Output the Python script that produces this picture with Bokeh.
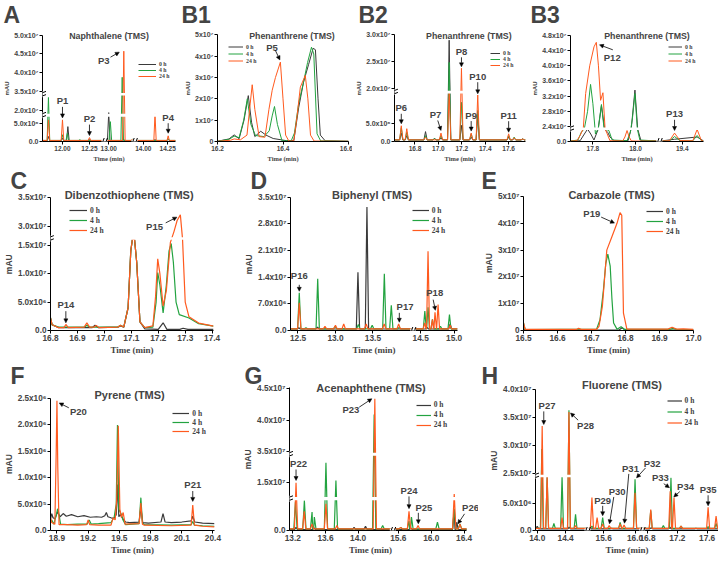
import numpy as np
from bokeh.plotting import figure
from bokeh.models import (Range1d, FixedTicker, CustomJSTickFormatter, Label, Arrow, Title,
                          NormalHead, Legend, LegendItem, BoxAnnotation)
from bokeh.layouts import column, row
from bokeh.embed import file_html
from bokeh.resources import INLINE

SERIES_NAMES = ["0 h", "4 h", "24 h"]

# ---------------- A: Naphthalene (peak tables: retention time, intensity)
A_t_0h = [11.87, 12.00, 12.05, 12.25, 13.00, 13.14, 14.12, 14.255]
A_v_0h = [1.4e6, 0.9e6, 4.2e6, 0.5e6, 1.95e7, 0.5e6, 0.6e6, 0.6e6]
A_t_4h = [11.87, 12.00, 12.045, 12.16, 13.015, 13.125, 13.22, 14.255]
A_v_4h = [2.35e7, 1.9e6, 2.3e6, 0.5e6, 5.6e6, 3.87e7, 0.6e6, 0.8e6]
A_t_24h = [11.87, 12.00, 12.25, 13.14, 13.22, 14.12, 14.255]
A_v_24h = [6.1e6, 6.1e6, 1.1e6, 4.57e7, 0.7e6, 1.85e7, 1.6e6]
A_base = [0.25e6, 0.3e6, 0.3e6]
A_xticks = [12.0, 12.25, 13.0, 14.0, 14.25]
A_xlabels = ["12.00", "12.25", "13.00", "14.00", "14.25"]
A_yticks = [0, 5e6, 2e7, 3.5e7, 4e7, 4.5e7, 5e7]
A_ylabels = ["0.0", "5.0x10\u2076", "2.0x10\u2077", "3.5x10\u2077", "4.0x10\u2077", "4.5x10\u2077", "5.0x10\u2077"]

# ---------------- B1: Phenanthrene (trace points)
B1_t_0h = [16.200, 16.235, 16.251, 16.266, 16.281, 16.294, 16.304, 16.314, 16.332, 16.348, 16.370, 16.410,
           16.433, 16.448, 16.463, 16.478, 16.492, 16.499, 16.507, 16.514, 16.529, 16.600]
B1_v_0h = [0.1e6, 1.2e6, 3.1e6, 1.3e6, 1.0e7, 2.15e7, 9e6, 2.3e6, 4.8e6, 3.0e6, 1.4e6, 0.4e6,
           0.4e6, 1.6e7, 2.8e7, 3.6e7, 4.37e7, 4.3e7, 2.0e7, 3e6, 0.3e6, 0.1e6]
B1_t_4h = [16.200, 16.235, 16.251, 16.266, 16.280, 16.291, 16.302, 16.316, 16.342, 16.358, 16.367, 16.374,
           16.383, 16.397, 16.425, 16.435, 16.448, 16.463, 16.475, 16.487, 16.494, 16.504, 16.515, 16.600]
B1_v_4h = [0.1e6, 1.0e6, 2.5e6, 1.8e6, 1.0e7, 2.0e7, 8e6, 2.8e6, 2.3e6, 5e6, 1.2e7, 1.64e7,
           8e6, 0.3e6, 0.3e6, 4e6, 1.8e7, 2.8e7, 3.7e7, 4.42e7, 4.1e7, 3.6e6, 0.3e6, 0.1e6]
B1_t_24h = [16.200, 16.240, 16.251, 16.270, 16.290, 16.300, 16.306, 16.314, 16.327, 16.345, 16.357, 16.367,
            16.377, 16.392, 16.400, 16.408, 16.418, 16.433, 16.443, 16.453, 16.468, 16.476, 16.484, 16.495, 16.600]
B1_v_24h = [0.1e6, 0.6e6, 1.2e6, 0.8e6, 3e6, 1.8e7, 2.66e7, 1.5e7, 2.3e6, 2.0e6, 1.5e7, 2.4e7,
            3.0e7, 3.72e7, 2.0e7, 3e6, 0.2e6, 0.3e6, 1.2e7, 2.55e7, 3.1e7, 2.0e7, 3e6, 0.2e6, 0.1e6]
B1_xticks = [16.2, 16.4, 16.6]
B1_xlabels = ["16.2", "16.4", "16.6"]
B1_yticks = [0, 1e7, 2e7, 3e7, 4e7, 5e7]
B1_ylabels = ["0", "1x10\u2077", "2x10\u2077", "3x10\u2077", "4x10\u2077", "5x10\u2077"]

# ---------------- B2: Phenanthrene (peak tables)
B2_t_0h = [16.683, 16.73, 16.89, 16.967, 17.022, 17.092, 17.197, 17.28, 17.336, 17.60, 17.647, 17.72]
B2_v_0h = [2.3e6, 1.6e6, 2.7e6, 0.9e6, 1.0e6, 2.9e7, 4.4e6, 1.2e6, 7.5e6, 1.2e6, 0.9e6, 0.7e6]
B2_t_4h = [16.683, 16.73, 16.89, 16.967, 17.022, 17.092, 17.197, 17.28, 17.336, 17.60, 17.647, 17.72]
B2_v_4h = [3.8e6, 2.5e6, 1.6e6, 0.8e6, 1.6e6, 2.49e7, 1.07e7, 2.1e6, 8.5e6, 1.6e6, 1.2e6, 0.7e6]
B2_t_24h = [16.683, 16.73, 16.89, 17.022, 17.092, 17.197, 17.28, 17.336, 17.60, 17.647, 17.72]
B2_v_24h = [4.3e6, 3.5e6, 1.2e6, 2.3e6, 1.9e7, 2.38e7, 2.3e6, 1.27e7, 2.1e6, 1.0e6, 0.7e6]
B2_base = [0.4e6, 0.45e6, 0.45e6]
B2_xticks = [16.8, 17.0, 17.2, 17.4, 17.6]
B2_xlabels = ["16.8", "17.0", "17.2", "17.4", "17.6"]
B2_yticks = [0, 5e6, 2e7, 2.5e7, 3e7]
B2_ylabels = ["0.0", "5.0x10\u2076", "2.0x10\u2077", "2.5x10\u2077", "3.0x10\u2077"]

# ---------------- B3: Phenanthrene (trace points)
B3_t_0h = [17.695, 17.740, 17.760, 17.775, 17.790, 17.805, 17.825, 17.840, 17.855, 17.870, 17.880, 17.900,
           17.965, 17.980, 17.997, 18.010, 18.025, 18.106, 19.298, 19.364, 19.470, 19.500]
B3_v_0h = [0.3e6, 0.5e6, 5e6, 1.2e7, 5e6, 1.0e6, 1.2e7, 2.95e7, 1.2e7, 6e6, 3e6, 0.5e6,
           0.6e6, 2.2e7, 3.36e7, 1.2e7, 0.6e6, 0.3e6, 0.3e6, 1.5e6, 3.0e6, 0.4e6]
B3_t_4h = [17.695, 17.730, 17.745, 17.760, 17.775, 17.789, 17.800, 17.812, 17.825, 17.840, 17.852, 17.862,
           17.875, 17.890, 17.960, 17.975, 17.985, 17.997, 18.008, 18.020, 18.106, 19.298, 19.340, 19.364,
           19.390, 19.450, 19.470, 19.490, 19.500]
B3_v_4h = [0.3e6, 1.0e6, 6e6, 1.8e7, 2.8e7, 3.51e7, 3.0e7, 5e6, 2.0e7, 2.98e7, 2.2e7, 1.0e7,
           7.3e6, 1.0e6, 0.5e6, 6e6, 2.6e7, 3.27e7, 1.5e7, 1.0e6, 0.3e6, 0.3e6, 0.4e6, 3.3e6,
           0.5e6, 0.5e6, 4.0e6, 0.6e6, 0.4e6]
B3_t_24h = [17.695, 17.725, 17.740, 17.755, 17.766, 17.785, 17.805, 17.816, 17.826, 17.836, 17.847, 17.857,
            17.867, 17.880, 17.940, 17.950, 17.960, 17.970, 17.980, 18.000, 18.106, 19.298, 19.340, 19.364,
            19.390, 19.450, 19.470, 19.490, 19.500]
B3_v_24h = [0.3e6, 0.5e6, 4e6, 2.0e7, 3.27e7, 4.0e7, 4.5e7, 4.62e7, 4.0e7, 3.09e7, 3.29e7, 1.6e7,
            5.1e6, 0.5e6, 0.4e6, 3e6, 7.3e6, 3e6, 0.4e6, 0.3e6, 0.3e6, 0.3e6, 0.5e6, 5.6e6,
            0.6e6, 0.5e6, 8.9e6, 0.6e6, 0.4e6]
B3_xticks = [17.8, 18.0, 19.4]
B3_xlabels = ["17.8", "18.0", "19.4"]
B3_yticks = [0, 2.4e7, 2.8e7, 3.2e7, 3.6e7, 4.0e7, 4.4e7, 4.8e7]
B3_ylabels = ["0.0", "2.4x10\u2077", "2.8x10\u2077", "3.2x10\u2077", "3.6x10\u2077", "4.0x10\u2077", "4.4x10\u2077", "4.8x10\u2077"]

# ---------------- C: Dibenzothiophene (trace points)
C_t_0h = [16.800, 16.806, 16.830, 16.955, 16.965, 16.978, 17.050, 17.060, 17.072, 17.088, 17.098, 17.104,
          17.112, 17.120, 17.132, 17.150, 17.200, 17.218, 17.232, 17.280, 17.292, 17.310, 17.405]
C_v_0h = [2.2e6, 1.0e6, 0.5e6, 0.5e6, 0.94e6, 0.5e6, 0.6e6, 0.8e6, 0.6e6, 4e6, 1.4e7, 1.63e7,
          1.63e7, 1.2e7, 1.5e6, 0.3e6, 0.2e6, 1.35e6, 0.2e6, 0.2e6, 0.4e6, 0.2e6, 0.2e6]
C_t_4h = [16.800, 16.806, 16.830, 16.925, 16.935, 16.945, 17.050, 17.060, 17.072, 17.088, 17.098, 17.104,
          17.112, 17.120, 17.132, 17.150, 17.180, 17.192, 17.198, 17.206, 17.218, 17.230, 17.240, 17.248,
          17.256, 17.266, 17.278, 17.314, 17.350, 17.405]
C_v_4h = [2.2e6, 1.0e6, 0.6e6, 0.6e6, 0.9e6, 0.6e6, 0.6e6, 0.9e6, 0.6e6, 4e6, 1.4e7, 1.63e7,
          1.63e7, 1.2e7, 1.5e6, 0.5e6, 0.6e6, 5e6, 1.02e7, 8e6, 3.1e6, 8e6, 1.4e7, 1.53e7,
          1.2e7, 5e6, 2.8e6, 2.2e6, 1.2e6, 0.76e6]
C_t_24h = [16.800, 16.806, 16.830, 16.850, 16.857, 16.866, 16.925, 16.935, 16.945, 16.962, 16.970, 16.980,
           17.050, 17.060, 17.072, 17.088, 17.098, 17.104, 17.112, 17.120, 17.132, 17.150, 17.180, 17.190,
           17.198, 17.206, 17.218, 17.230, 17.245, 17.258, 17.270, 17.282, 17.290, 17.300, 17.314, 17.350, 17.405]
C_v_24h = [2.2e6, 1.0e6, 0.5e6, 0.5e6, 1.06e6, 0.5e6, 0.6e6, 1.35e6, 0.6e6, 0.6e6, 0.9e6, 0.5e6,
           0.6e6, 0.9e6, 0.6e6, 4e6, 1.4e7, 1.63e7, 1.63e7, 1.2e7, 1.5e6, 0.5e6, 0.8e6, 6e6,
           1.26e7, 1.0e7, 4.3e6, 7e6, 1.55e7, 2.9e7, 3.1e7, 3.2e7, 2.0e7, 5e6, 2.4e6, 1.3e6, 0.76e6]
C_xticks = [16.8, 16.9, 17.0, 17.1, 17.2, 17.3, 17.4]
C_xlabels = ["16.8", "16.9", "17.0", "17.1", "17.2", "17.3", "17.4"]
C_yticks = [0, 5e6, 1e7, 1.5e7, 3e7, 3.5e7]
C_ylabels = ["0.0", "5.0x10\u2076", "1.0x10\u2077", "1.5x10\u2077", "3.0x10\u2077", "3.5x10\u2077"]

# ---------------- D: Biphenyl (peak tables)
D_t_0h = [12.51, 12.76, 13.30, 13.42, 14.595, 14.94]
D_v_0h = [0.7e6, 0.9e6, 1.53e7, 3.24e7, 0.8e6, 1.75e6]
D_t_4h = [12.517, 12.606, 12.763, 12.996, 13.305, 13.49, 13.652, 13.745, 13.85, 14.562, 14.61, 14.676, 14.795, 14.93]
D_v_4h = [9.9e6, 0.7e6, 1.36e7, 1.1e6, 1.6e6, 1.4e6, 1.49e7, 6.6e6, 0.8e6, 5.1e6, 6.1e6, 2.9e6, 1.1e6, 4.2e6]
D_t_24h = [12.517, 12.86, 13.0, 13.11, 13.41, 13.65, 13.843, 14.56, 14.61, 14.676, 14.714, 14.76, 14.94]
D_v_24h = [7.3e6, 1.1e6, 1.4e6, 1.75e6, 1.75e6, 1.75e6, 1.75e6, 2e6, 2.08e7, 2.9e6, 4.8e6, 6.8e6, 1.4e6]
D_base = [0.4e6, 0.45e6, 0.45e6]
D_xticks = [12.5, 13.0, 13.5, 14.5, 15.0]
D_xlabels = ["12.5", "13.0", "13.5", "14.5", "15.0"]
D_yticks = [0, 7e6, 1.4e7, 2.1e7, 2.8e7, 3.5e7]
D_ylabels = ["0.0", "7.0x10\u2076", "1.4x10\u2077", "2.1x10\u2077", "2.8x10\u2077", "3.5x10\u2077"]

# ---------------- E: Carbazole (trace points)
E_t_0h = [16.500, 16.505, 16.780, 16.790, 16.800, 17.000]
E_v_0h = [0.5e6, 0.12e6, 0.12e6, 1.0e6, 0.12e6, 0.12e6]
E_t_4h = [16.500, 16.505, 16.715, 16.725, 16.735, 16.742, 16.748, 16.755, 16.760, 16.765, 16.775, 16.787,
          16.797, 16.930, 16.940, 16.950, 17.000]
E_v_4h = [2.8e6, 0.3e6, 0.5e6, 4e6, 1.5e7, 2.5e7, 2.85e7, 2.4e7, 1.2e7, 2.8e6, 0.5e6, 1.4e6,
          0.4e6, 0.4e6, 0.8e6, 0.4e6, 0.3e6]
E_t_24h = [16.500, 16.505, 16.655, 16.662, 16.670, 16.715, 16.722, 16.732, 16.745, 16.760, 16.775, 16.784,
           16.789, 16.794, 16.804, 16.925, 16.937, 16.950, 16.970, 17.000]
E_v_24h = [2.8e6, 0.4e6, 0.4e6, 0.8e6, 0.4e6, 0.4e6, 1.5e6, 9e6, 3.0e7, 3.5e7, 4.0e7, 4.4e7,
           4.3e7, 6.5e6, 0.5e6, 0.5e6, 1.2e6, 0.5e6, 0.6e6, 0.4e6]
E_xticks = [16.5, 16.6, 16.7, 16.8, 16.9, 17.0]
E_xlabels = ["16.5", "16.6", "16.7", "16.8", "16.9", "17.0"]
E_yticks = [0, 1e7, 2e7, 3e7, 4e7, 5e7]
E_ylabels = ["0", "1x10\u2077", "2x10\u2077", "3x10\u2077", "4x10\u2077", "5x10\u2077"]

# ---------------- F: Pyrene (trace points)
F_t_0h = [18.838, 18.850, 18.862, 18.880, 18.905, 18.930, 18.960, 18.990, 19.040, 19.100, 19.160, 19.220,
          19.280, 19.330, 19.360, 19.375, 19.390, 19.420, 19.450, 19.470, 19.482, 19.495, 19.510, 19.540,
          19.560, 19.600, 19.690, 19.707, 19.725, 19.780, 19.900, 19.920, 19.940, 20.000, 20.100, 20.190,
          20.206, 20.225, 20.300, 20.415]
F_v_0h = [2.2e5, 3.2e5, 2.4e5, 2.2e5, 3.5e5, 2.6e5, 3.2e5, 2.7e5, 3.0e5, 2.6e5, 2.8e5, 2.5e5,
          2.6e5, 2.5e5, 2.8e5, 3.4e5, 2.6e5, 2.4e5, 2.3e5, 3.0e5, 8.7e5, 2.6e5, 3.0e5, 2.0e5,
          1.6e5, 1.5e5, 1.6e5, 4.3e5, 1.5e5, 1.4e5, 1.6e5, 3.2e5, 1.6e5, 1.5e5, 1.6e5, 1.8e5,
          2.7e5, 1.6e5, 1.4e5, 1.3e5]
F_t_4h = [18.838, 18.850, 18.870, 18.895, 18.906, 18.915, 18.935, 19.000, 19.100, 19.190, 19.210, 19.230,
          19.300, 19.420, 19.450, 19.470, 19.482, 19.495, 19.520, 19.535, 19.560, 19.690, 19.707, 19.722,
          19.740, 20.000, 20.190, 20.206, 20.222, 20.300, 20.415]
F_v_4h = [1.5e5, 2.0e5, 1.2e5, 3.0e5, 4.1e5, 3.5e5, 1.2e5, 1.1e5, 1.2e5, 1.2e5, 2.0e5, 1.2e5,
          1.3e5, 1.5e5, 2.5e5, 5e5, 1.99e6, 4e5, 3.0e5, 2.0e5, 1.1e5, 1.3e5, 6.2e5, 1.5e5,
          1.1e5, 1.0e5, 1.1e5, 1.7e5, 1.0e5, 0.9e5, 0.8e5]
F_t_24h = [18.838, 18.850, 18.880, 18.893, 18.900, 18.908, 18.920, 19.000, 19.100, 19.185, 19.200, 19.215,
           19.300, 19.420, 19.440, 19.460, 19.475, 19.490, 19.505, 19.520, 19.537, 19.555, 19.690, 19.707,
           19.722, 19.740, 20.000, 20.190, 20.206, 20.222, 20.300, 20.415]
F_v_24h = [2.5e5, 1.5e5, 1.2e5, 1.5e6, 2.45e6, 1.2e6, 1.1e5, 1.1e5, 1.0e5, 1.1e5, 2.0e5, 1.1e5,
           1.0e5, 1.0e5, 2.4e5, 2.0e5, 6e5, 1.98e6, 4e5, 2.5e5, 3.4e5, 1.2e5, 1.3e5, 5.2e5,
           1.2e5, 1.0e5, 0.9e5, 1.0e5, 4.8e5, 1.0e5, 0.8e5, 0.7e5]
F_xticks = [18.9, 19.2, 19.5, 19.8, 20.1, 20.4]
F_xlabels = ["18.9", "19.2", "19.5", "19.8", "20.1", "20.4"]
F_yticks = [0, 5e5, 1e6, 1.5e6, 2e6, 2.5e6]
F_ylabels = ["0.0", "5.0x10\u2075", "1.0x10\u2076", "1.5x10\u2076", "2.0x10\u2076", "2.5x10\u2076"]

# ---------------- G: Acenaphthene (peak tables)
G_t_0h = [13.24, 13.46, 13.95, 14.09, 15.75, 16.28, 16.31]
G_v_0h = [1.0e6, 0.8e6, 1.0e6, 1.3e6, 0.8e6, 6.3e6, 2.6e6]
G_t_4h = [13.233, 13.342, 13.436, 13.464, 13.606, 13.728, 14.196, 14.30, 15.63, 15.73, 15.76, 16.076, 16.28, 16.35]
G_v_4h = [9.0e6, 9.4e6, 5.8e6, 4.2e6, 2.13e7, 1.57e7, 4.09e7, 1.6e6, 1.0e6, 3.0e6, 4.2e6, 2.6e6, 6.8e6, 2.1e6]
G_t_24h = [13.24, 13.34, 13.436, 13.606, 13.74, 14.204, 15.63, 15.73, 15.84, 16.28, 16.35]
G_v_24h = [1.5e7, 6.0e6, 2.1e6, 8.4e6, 1.6e6, 4.34e7, 1.0e6, 6.0e6, 1.6e6, 1.15e7, 2.0e6]
G_base = [0.3e6, 0.5e6, 0.5e6]
G_xticks = [13.2, 13.6, 14.0, 15.6, 16.0, 16.4]
G_xlabels = ["13.2", "13.6", "14.0", "15.6", "16.0", "16.4"]
G_yticks = [0, 1.5e7, 3.5e7, 4.0e7, 4.5e7]
G_ylabels = ["0.0", "1.5x10\u2077", "3.5x10\u2077", "4.0x10\u2077", "4.5x10\u2077"]

# ---------------- H: Fluorene (peak tables)
H_t_0h = [14.0, 14.45, 15.7, 16.85, 17.1, 17.45]
H_v_0h = [0.8e6, 0.6e6, 0.4e6, 0.5e6, 0.6e6, 0.4e6]
H_t_4h = [14.065, 14.14, 14.235, 14.35, 14.447, 14.54, 15.45, 15.587, 15.81, 16.0, 16.844, 17.013,
          17.115, 17.25, 17.613, 17.72]
H_v_4h = [2.94e7, 1.0e7, 1.3e6, 1.0e7, 3.63e7, 3.0e6, 0.8e6, 2.4e6, 1.5e6, 9.5e6, 3.7e6, 0.9e6,
          9.8e6, 0.8e6, 0.7e6, 1.3e6]
H_t_24h = [14.07, 14.14, 14.35, 14.447, 14.54, 15.45, 15.516, 15.587, 15.67, 15.81, 15.86, 16.0,
           16.844, 17.105, 17.156, 17.25, 17.613, 17.72]
H_v_24h = [3.35e7, 1.0e7, 2.4e6, 3.6e7, 0.9e6, 6.1e6, 2.4e6, 1.2e6, 0.9e6, 1.2e6, 1.0e6, 7.0e6,
           3.9e6, 7.3e6, 6.1e6, 0.8e6, 4.3e6, 2.7e6]
H_base = [0.3e6, 0.4e6, 0.4e6]
H_xticks = [14.0, 14.4, 15.6, 16.0, 16.8, 17.2, 17.6]
H_xlabels = ["14.0", "14.4", "15.6", "16.0", "16.8", "17.2", "17.6"]
H_yticks = [0, 5e6, 2.5e7, 3.0e7, 3.5e7, 4.0e7]
H_ylabels = ["0.0", "5.0x10\u2076", "2.5x10\u2077", "3.0x10\u2077", "3.5x10\u2077", "4.0x10\u2077"]

# ================= styling / layout =================
COLORS = ["#3a3a3a", "#23a340", "#ff5a1f"]
SANS = "Liberation Sans"
SERIF = "Liberation Serif"
NB = "\u00a0"
S1 = dict(ytick="7px", xtick="6.5px", xlab="6.5px", ylab="6px", title="8.8px", letter="23px",
          plab="9.5px", leg="5.8px", lw=1.0, nbw=0.278 * 6)
S2 = dict(ytick="8.2px", xtick="8.3px", xlab="9px", ylab="8.5px", title="11px", letter="23px",
          plab="9.5px", leg="7.5px", lw=1.2, nbw=0.278 * 8.5)


def V(txt, si, pi, d=19, a0=13, a1=2):
    return (txt, si, pi, 0, d, 0, a0, 0, a1)


# box = (W, H, L, R, T, B); fh = data height (px) inside the frame; extr = extra frame px right of data
PANELS = [
    dict(letter="A", title="Naphthalene (TMS)", st=S1, box=(178, 167, 42, 3, 15, 26), fh=106.4, extr=0,
         mode="peaks", w=0.012, base=A_base,
         series=[(A_t_0h, A_v_0h), (A_t_4h, A_v_4h), (A_t_24h, A_v_24h)],
         xsegs=[(11.815, 12.38, 0, 61), (12.97, 13.23, 63, 91), (13.92, 14.33, 93, 133)],
         ysegs=[(0, 7e6, 0, 24.8), (1.92e7, 2.4e7, 27.7, 45.9), (3.45e7, 5.0e7, 48.5, 106.4)],
         xt=(A_xticks, A_xlabels), yt=(A_yticks, A_ylabels),
         leg=(96, 61.7, 6.5, 18), tdx=0, tbase=106,
         ann=[V("P1", 2, 1), V("P2", 2, 2), ("P3", 2, 3, -20, -9.3, -13.3, -6, -4.5, -1), V("P4", 2, 6, 18.5, 12.6, 2.6)]),
    dict(letter="B1", title="Phenanthrene (TMS)", st=S1, box=(174, 167, 39, 4, 15, 26), fh=106.7, extr=0,
         mode="points", series=[(B1_t_0h, B1_v_0h), (B1_t_4h, B1_v_4h), (B1_t_24h, B1_v_24h)],
         xsegs=[(16.2, 16.6, 0, 131)], ysegs=[(0, 5e7, 0, 106.7)],
         xt=(B1_xticks, B1_xlabels), yt=(B1_yticks, B1_ylabels),
         leg=(11, 76.7, 6.6, 15), tdx=9, tbase=106,
         ann=[("P5", 2, 13, -8.3, 15, -5, 11.7, -0.5, 2.2)]),
    dict(letter="B2", title="Phenanthrene (TMS)", st=S1, box=(175, 167, 39, 2, 15, 26), fh=106.7, extr=0,
         mode="peaks", w=0.014, base=B2_base,
         series=[(B2_t_0h, B2_v_0h), (B2_t_4h, B2_v_4h), (B2_t_24h, B2_v_24h)],
         xsegs=[(16.625, 17.744, 0, 134)],
         ysegs=[(0, 1.32e7, 0, 48.3), (1.96e7, 3.0e7, 50.5, 106.7)],
         xt=(B2_xticks, B2_xlabels), yt=(B2_yticks, B2_ylabels),
         leg=(96, 73, 5.9, 10), tdx=9, tbase=106,
         ann=[V("P6", 2, 0, 18, 12, 2), ("P7", 2, 3, -5.6, 18.3, -3.3, 12.6, 0, 2.6), V("P8", 2, 5, 17, 11, 1.5),
              V("P9", 2, 6, 17.6, 12, 2), V("P10", 2, 7, 18.5, 12.8, 1.2), V("P11", 2, 8, 18.3, 12.6, 1.6)]),
    dict(letter="B3", title="Phenanthrene (TMS)", st=S1, box=(191, 167, 43, 15, 15, 26), fh=106, extr=0,
         mode="points", series=[(B3_t_0h, B3_v_0h), (B3_t_4h, B3_v_4h), (B3_t_24h, B3_v_24h)],
         xsegs=[(17.695, 18.106, 0, 87.7), (19.298, 19.50, 90, 133)],
         ysegs=[(0, 8e6, 0, 12), (2.36e7, 4.8e7, 13.5, 106)],
         xt=(B3_xticks, B3_xlabels), yt=(B3_yticks, B3_ylabels),
         leg=(98, 76.6, 6.8, 14), tdx=10, tbase=106,
         ann=[("P12", 2, 7, 15.9, -14.9, 16.5, -7.5, 3.2, -2.5), V("P13", 2, 23, 19.3, 13.3, 2.6)]),
    dict(letter="C", title="Dibenzothiophene (TMS)", st=S2, box=(240, 190, 43, 27, 14, 27), fh=132.6, extr=0,
         mode="points", series=[(C_t_0h, C_v_0h), (C_t_4h, C_v_4h), (C_t_24h, C_v_24h)],
         xsegs=[(16.8, 17.405, 0, 170)],
         ysegs=[(0, 1.6e7, 0, 91), (2.8e7, 3.5e7, 93, 132.6)],
         xt=(C_xticks, C_xlabels), yt=(C_yticks, C_ylabels),
         leg=(19, 94.7, 10.5, 18), tdx=-3, tbase=136,
         ann=[V("P14", 2, 4, 20, 13.3, 1.6), ("P15", 2, 31, -26.9, -11.3, -15.3, -8, -3.6, -2.3)]),
    dict(letter="D", title="Biphenyl (TMS)", st=S2, box=(238, 190, 43, 21, 14, 27), fh=133.3, extr=0,
         mode="peaks", w=0.022, base=D_base,
         series=[(D_t_0h, D_v_0h), (D_t_4h, D_v_4h), (D_t_24h, D_v_24h)],
         xsegs=[(12.40, 14.02, 0, 126.5), (14.405, 15.05, 129, 174)],
         ysegs=[(0, 3.5e7, 0, 133.3)],
         xt=(D_xticks, D_xlabels), yt=(D_yticks, D_ylabels),
         leg=(121.7, 95, 10, 17), tdx=-2, tbase=136,
         ann=[V("P16", 1, 0, 17, 8, 1.5), ("P17", 2, 6, 6.7, 17.6, 0.7, 11, 0.7, 1.6),
              ("P18", 2, 10, -0.3, 19.3, -1.9, 12.6, 0.4, 1.9)]),
    dict(letter="E", title="Carbazole (TMS)", st=S2, box=(240, 190, 45, 25, 14, 27), fh=134, extr=0,
         mode="points", series=[(E_t_0h, E_v_0h), (E_t_4h, E_v_4h), (E_t_24h, E_v_24h)],
         xsegs=[(16.5, 17.0, 0, 170)], ysegs=[(0, 5e7, 0, 134)],
         xt=(E_xticks, E_xlabels), yt=(E_yticks, E_ylabels),
         leg=(123, 94, 9.7, 17), tdx=3, tbase=136,
         ann=[("P19", 2, 11, -28.3, -1.1, -18.9, -4.5, -5.6, -10.5)]),
    dict(letter="F", title="Pyrene (TMS)", st=S2, box=(240, 207, 43, 26, 19, 29), fh=136.7, extr=0,
         mode="points", series=[(F_t_0h, F_v_0h), (F_t_4h, F_v_4h), (F_t_24h, F_v_24h)],
         xsegs=[(18.838, 20.415, 0, 171)], ysegs=[(0, 2.5e6, 0, 136.7)],
         xt=(F_xticks, F_xlabels), yt=(F_yticks, F_ylabels),
         leg=(122.3, 94.5, 7.5, 17), tdx=-3, tbase=140,
         ann=[("P20", 2, 4, 22.4, -10.7, 12.4, -7.3, 2.4, -2.3), V("P21", 2, 28, 21, 14.5, 3.8)]),
    dict(letter="G", title="Acenaphthene (TMS)", st=S2, box=(238, 207, 48, 0, 19, 34), fh=143, extr=12,
         mode="peaks", w=0.02, base=G_base,
         series=[(G_t_0h, G_v_0h), (G_t_4h, G_v_4h), (G_t_24h, G_v_24h)],
         xsegs=[(13.16, 14.41, 0, 102.7), (15.547, 16.43, 105, 178)],
         ysegs=[(0, 9.5e6, 0, 30.2), (1.05e7, 2.35e7, 33.4, 74.7), (3.48e7, 4.55e7, 77.7, 144.8)],
         xt=(G_xticks, G_xlabels), yt=(G_yticks, G_ylabels),
         leg=(126.7, 100.5, 10.5, 15), tdx=-7, tbase=143, xnb=12,
         ann=[("P22", 2, 0, 2.5, 19.6, 0, 13.3, 0, 2.3), ("P23", 2, 5, -24, -10.9, -15.7, -8.3, -3, 0.1),
              V("P24", 2, 7, 21, 15, 2.8), ("P25", 2, 8, 5.9, 17.6, 0.3, 12.6, 0.3, 1.6),
              ("P26", 2, 10, 10.6, 16.3, 4.6, 10.3, -2.1, 0.3)]),
    dict(letter="H", title="Fluorene (TMS)", st=S2, box=(240, 207, 57, 0, 19, 32), fh=143, extr=0,
         mode="peaks", w=0.02, base=H_base,
         series=[(H_t_0h, H_v_0h), (H_t_4h, H_v_4h), (H_t_24h, H_v_24h)],
         xsegs=[(13.976, 14.69, 0, 50.7), (15.41, 16.076, 53.3, 105.5), (16.747, 17.747, 108, 182.6)],
         ysegs=[(0, 1.0e7, 0, 54.6), (2.47e7, 4.0e7, 56, 142.7)],
         xt=(H_xticks, H_xlabels), yt=(H_yticks, H_ylabels),
         leg=(131.6, 102, 10.8, 15), tdx=-5, tbase=147,
         ann=[("P27", 2, 0, 4.9, 20.8, 1.6, 14.8, 1.6, 1.5), ("P28", 2, 3, 16.6, -13.3, 9.2, -8.3, 1.6, -1),
              V("P29", 1, 7, 17.6, 11.9, 1.9), ("P30", 2, 8, 7.9, 34.5, 4.6, 29.1, 0.3, 1.8),
              ("P31", 2, 10, 6.4, 57.2, 4.7, 51.9, 0.4, 1.9), ("P32", 1, 9, 17.1, 15.5, 10.5, 11.5, 1.5, 1.5),
              ("P33", 1, 12, -10.5, 0.5, -7.2, -6.1, -1.5, -10.1), ("P34", 2, 14, 11.5, 11.7, 5.8, 6.1, -0.2, 0.7),
              V("P35", 2, 16, 18.2, 12.2, 1.5)]),
]

FMT = ("var b=0,d=1e99;for(var i=0;i<tk.length;i++){var e=Math.abs(tk[i]-tick);"
       "if(e<d){d=e;b=i;}}return lb[b];")


def smap(vals, segs):
    xp, fp = [], []
    for dlo, dhi, slo, shi in segs:
        xp += [dlo, dhi]
        fp += [slo, shi]
    return [float(np.interp(v, xp, fp)) for v in vals]


def seg_of(t, segs):
    for i, s in enumerate(segs):
        if s[0] - 1e-9 <= t <= s[1] + 1e-9:
            return i
    return None


def peak_points(times, heights, base, w, xsegs):
    pts = []
    for s in xsegs:
        pts += [(s[0], base), (s[1], base)]
    for t, h in zip(times, heights):
        pts += [(t - w, base), (t, h), (t + w, base)]
    pts.sort(key=lambda q: q[0])
    return [q[0] for q in pts], [q[1] for q in pts]


def to_display(ts, vs, xsegs, ysegs):
    xs, ys, prev = [], [], None
    for t, v in zip(ts, vs):
        k = seg_of(t, xsegs)
        if k is None:
            continue
        if prev is not None and k != prev:
            xs.append(float("nan"))
            ys.append(float("nan"))
        xs.append(smap([t], xsegs)[0])
        ys.append(smap([v], ysegs)[0])
        prev = k
    return xs, ys


def seg_line(p, x0, y0, x1, y1, color="black", width=1.0):
    p.add_layout(Arrow(end=None, x_start=x0, y_start=y0, x_end=x1, y_end=y1,
                       line_color=color, line_width=width))


def make_panel(c):
    st = c["st"]
    W, H, L, R, T, B = c["box"]
    fwp, fhp = W - L - R, H - T - B          # frame size in px (1 unit = 1 px)
    fw = fwp - c["extr"]                      # data width
    fh = c["fh"]                              # data height
    p = figure(width=W, height=H, x_range=Range1d(0, fwp), y_range=Range1d(0, fhp),
               output_backend="svg", toolbar_location=None, title=None,
               min_border_left=L, min_border_right=R, min_border_top=T, min_border_bottom=B)
    p.outline_line_color = None
    p.grid.visible = False
    xsegs, ysegs = c["xsegs"], c["ysegs"]
    rends = []
    for i, (tt, vv) in enumerate(c["series"]):
        if c["mode"] == "peaks":
            tt, vv = peak_points(tt, vv, c["base"][i], c["w"], xsegs)
        dx, dy = to_display(tt, vv, xsegs, ysegs)
        rends.append(p.line(dx, dy, line_color=COLORS[i], line_width=st["lw"]))

    # axes (limited to the data area)
    xt = smap(c["xt"][0], xsegs)
    yt = smap(c["yt"][0], ysegs)
    p.xaxis.ticker = FixedTicker(ticks=xt, minor_ticks=[])
    p.yaxis.ticker = FixedTicker(ticks=yt, minor_ticks=[])
    p.xaxis.formatter = CustomJSTickFormatter(args=dict(tk=xt, lb=c["xt"][1]), code=FMT)
    p.yaxis.formatter = CustomJSTickFormatter(args=dict(tk=yt, lb=c["yt"][1]), code=FMT)
    p.xaxis.bounds = (0, fw)
    p.yaxis.bounds = (0, fh)
    for ax in (p.xaxis[0], p.yaxis[0]):
        ax.axis_line_color = "black"
        ax.major_tick_line_color = "black"
        ax.major_tick_out = 3
        ax.major_tick_in = 0
        ax.minor_tick_line_color = None
        ax.major_label_text_font = SANS
        ax.major_label_text_font_style = "bold"
        ax.major_label_standoff = 1
        ax.axis_label_standoff = 1
        ax.axis_label_text_font_style = "bold"
    p.xaxis.major_label_text_font_size = st["xtick"]
    p.yaxis.major_label_text_font_size = st["ytick"]
    p.xaxis.axis_label = "Time (min)" + NB * c.get("xnb", 0)
    p.xaxis.axis_label_text_font = SERIF
    p.xaxis.axis_label_text_font_size = st["xlab"]
    # pad so that the label is centred on the data part of the (taller) frame
    p.yaxis.axis_label = "mAU" + NB * int(round((fhp - fh) / st["nbw"]))
    p.yaxis.axis_label_text_font = SANS
    p.yaxis.axis_label_text_font_size = st["ylab"]

    # axis breaks
    for a, b in zip(xsegs[:-1], xsegs[1:]):
        xb = (a[3] + b[2]) / 2
        seg_line(p, xb - 3, 0.6, xb + 3, 0.6, "white", 3)
        for o in (-1.6, 1.6):
            seg_line(p, xb + o - 1.3, -3.5, xb + o + 1.3, 3.5)
    for a, b in zip(ysegs[:-1], ysegs[1:]):
        mid = (a[3] + b[2]) / 2
        half = max((b[2] - a[3]) / 2, 1.3)
        p.add_layout(BoxAnnotation(left=0.8, right=fw, bottom=mid - half, top=mid + half,
                                   fill_color="white", fill_alpha=1.0, line_color=None))
        seg_line(p, 0.6, mid - 3, 0.6, mid + 3, "white", 3)
        for o in (-1.6, 1.6):
            seg_line(p, -3.5, mid + o - 1.3, 3.5, mid + o + 1.3)

    # peak annotations
    for (txt, si, pi, ldx, ldy, a0x, a0y, a1x, a1y) in c["ann"]:
        tt, vv = c["series"][si]
        X = smap([tt[pi]], xsegs)[0]
        Y = smap([vv[pi]], ysegs)[0]
        p.add_layout(Label(x=X + ldx, y=Y + ldy, text=txt, text_align="center", text_baseline="middle",
                           text_font=SANS, text_font_style="bold", text_font_size=st["plab"]))
        p.add_layout(Arrow(x_start=X + a0x, y_start=Y + a0y, x_end=X + a1x, y_end=Y + a1y,
                           line_width=0.8, line_color="black",
                           end=NormalHead(size=4, fill_color="black", line_color="black", line_width=0.5)))

    # legend
    lx, ly, ih, gw = c["leg"]
    leg = Legend(items=[LegendItem(label=n, renderers=[r]) for n, r in zip(SERIES_NAMES, rends)],
                 location=(lx, ly), orientation="vertical",
                 glyph_width=int(round(gw)), glyph_height=int(round(ih)),
                 label_height=int(round(ih)), spacing=0, padding=0, margin=0, label_standoff=3,
                 label_text_font=SERIF, label_text_font_style="bold", label_text_font_size=st["leg"],
                 border_line_color=None, background_fill_alpha=0)
    p.add_layout(leg)

    # compound title inside the frame, above the data area
    p.add_layout(Label(x=fw / 2 + c["tdx"], y=c["tbase"], text=c["title"], text_align="center",
                       text_baseline="alphabetic", text_font=SANS, text_font_style="bold",
                       text_font_size=st["title"]))
    # panel letter in the top-left corner
    p.add_layout(Title(text=c["letter"], align="left", offset=3 - L, vertical_align="middle", standoff=-26,
                       text_font=SANS, text_font_style="bold", text_font_size=st["letter"]), "above")
    return p


figs = [make_panel(c) for c in PANELS]
layout = column(row(*figs[0:4]), row(*figs[4:7]), row(*figs[7:10]))
open("out.html", "w").write(file_html(layout, INLINE))
